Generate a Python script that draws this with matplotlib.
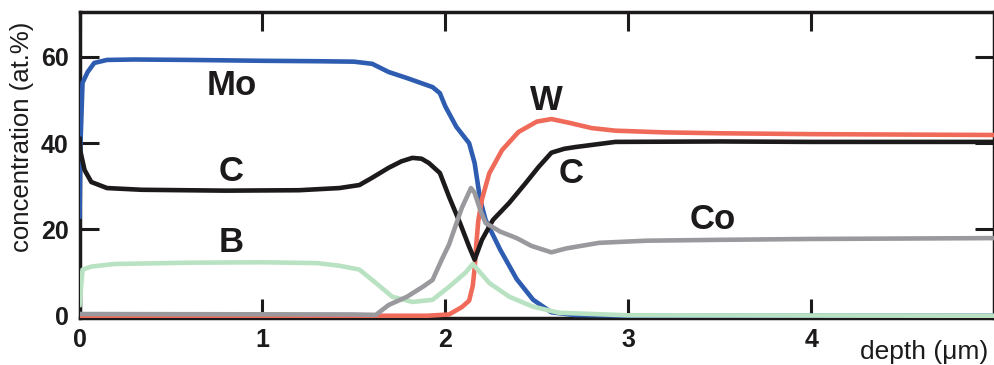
import numpy as np
import matplotlib
matplotlib.use('Agg')
from matplotlib import pyplot as plt

plt.rcParams['font.family'] = ['Liberation Sans', 'DejaVu Sans']

# depth (um) / concentration (at.%)
mo_depth = [0, 0.005, 0.016, 0.044, 0.08, 0.15, 0.3, 0.6, 1.0, 1.3, 1.5, 1.6, 1.69, 1.79, 1.93,
            1.97, 2.0, 2.06, 2.13, 2.16, 2.19, 2.22, 2.30, 2.39, 2.48, 2.58, 2.7, 3.0, 5.0]
mo_conc = [23, 40, 54, 56.5, 58.6, 59.3, 59.4, 59.3, 59.1, 59.0, 58.9, 58.4, 56.5, 55.1, 53.0,
           51.6, 48.5, 43.8, 40.0, 35.4, 27.0, 22.2, 15.3, 8.5, 3.7, 0.8, 0.2, 0, 0]

c_depth = [0, 0.005, 0.027, 0.064, 0.15, 0.34, 0.8, 1.2, 1.42, 1.53, 1.60, 1.69, 1.76, 1.82, 1.87,
           1.91, 1.97, 2.02, 2.08, 2.13, 2.16, 2.20, 2.26, 2.35, 2.44, 2.51, 2.58, 2.65, 2.71, 2.93,
           3.5, 4.0, 5.0]
c_conc = [41, 38, 33.8, 31, 29.6, 29.2, 29.0, 29.1, 29.6, 30.3, 32, 34.3, 35.8, 36.6, 36.4,
          35.4, 33.1, 27.6, 21.5, 16, 13, 17.6, 22.2, 26.2, 30.8, 34.5, 37.8, 38.7, 39.1, 40.3,
          40.4, 40.3, 40.3]

w_depth = [0, 1.9, 2.02, 2.09, 2.13, 2.15, 2.16, 2.17, 2.18, 2.20, 2.24, 2.31, 2.40, 2.50, 2.58,
           2.68, 2.80, 2.93, 3.2, 3.5, 4.0, 4.5, 5.0]
w_conc = [0, 0, 0.3, 2, 3.5, 7, 11, 17, 22, 27, 33, 38.4, 42.6, 45, 45.6,
          44.7, 43.5, 42.9, 42.5, 42.3, 42.1, 42.0, 41.9]

co_depth = [0, 1.5, 1.62, 1.69, 1.79, 1.88, 1.93, 1.98, 2.02, 2.09, 2.14, 2.16, 2.19, 2.22, 2.30,
            2.39, 2.47, 2.58, 2.66, 2.84, 3.1, 3.5, 4.0, 5.0]
co_conc = [0.4, 0.3, 0.2, 2.5, 4.4, 6.8, 8.3, 13, 16.5, 25, 29.6, 28.5, 24.6, 21.5, 19.5,
           18, 16.2, 14.7, 15.6, 16.9, 17.4, 17.6, 17.8, 18.0]

b_depth = [0, 0.005, 0.016, 0.064, 0.19, 0.6, 1.0, 1.3, 1.42, 1.53, 1.62, 1.71, 1.82, 1.93,
           2.02, 2.11, 2.15, 2.24, 2.35, 2.48, 2.62, 3.0, 5.0]
b_conc = [2.5, 5, 10.7, 11.4, 12, 12.3, 12.4, 12.2, 11.6, 10.7, 7.6, 4.4, 3.2, 3.7,
          6.7, 10, 12.0, 7.6, 4.4, 2.1, 0.7, 0.1, 0]

labels = ['Mo', 'C', 'B', 'W', 'C', 'Co']
label_x = [0.83, 0.83, 0.83, 2.55, 2.69, 3.46]
label_y = [53.3, 33.4, 16.9, 50.0, 32.9, 22.2]

f = plt.figure(figsize=(9.95, 3.65), dpi=100)
ax = f.add_axes([0.080, 0.129, 0.919, 0.838])

lw = 3.3
ax.plot(mo_depth, mo_conc, color='#2e5cb0', lw=lw, zorder=3)
ax.plot(w_depth, w_conc, color='#f06a5a', lw=lw, zorder=3)
ax.plot(c_depth, c_conc, color='#1c1a1a', lw=lw, zorder=3)
ax.plot(b_depth, b_conc, color='#b9e2c3', lw=lw, zorder=3)
ax.plot(co_depth, co_conc, color='#9a9a9e', lw=lw, zorder=3)

for t, x, y in zip(labels, label_x, label_y):
    ax.text(x, y, t, fontsize=25, fontweight='bold', ha='center', va='center', color='#1c1a1a')

ax.set_xlim(0, 5)
ax.set_ylim(-0.5, 70.4)
ax.set_xticks([0, 1, 2, 3, 4])
ax.set_yticks([0, 20, 40, 60])
ax.tick_params(direction='in', length=14, width=2.2, top=True, right=True,
               labelsize=18, color='#1c1a1a')
ax.tick_params(axis='y', pad=8)
ax.tick_params(axis='x', pad=7)
for lab in ax.get_xticklabels() + ax.get_yticklabels():
    lab.set_fontweight('bold')
    lab.set_color('#1c1a1a')
for s in ax.spines.values():
    s.set_linewidth(2.5)
    s.set_color('#1c1a1a')

f.text(0.993, 0.035, 'depth (\u03bcm)', fontsize=19, ha='right', va='center', color='#1c1a1a')
f.text(0.022, 0.625, 'concentration (at.%)', fontsize=18.5, rotation=90,
       ha='center', va='center', color='#1c1a1a')

plt.savefig('out.png', dpi=100)
